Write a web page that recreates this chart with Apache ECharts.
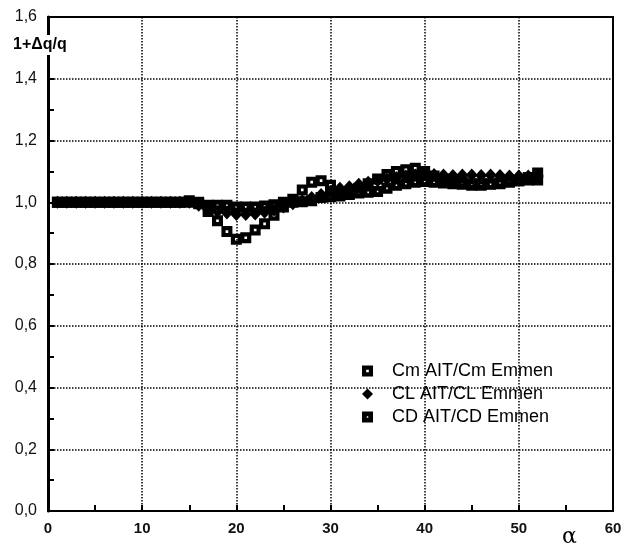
<!DOCTYPE html>
<html><head><meta charset="utf-8">
<script src="https://cdn.jsdelivr.net/npm/echarts@6/dist/echarts.min.js"></script>
<style>html,body{margin:0;padding:0;background:#fff}#c{width:632px;height:550px}</style>
</head><body><div id="c"></div>
<script>
var alpha = [1,2,3,4,5,6,7,8,9,10,11,12,13,14,15,16,17,18,19,20,21,22,23,24,25,26,27,28,29,30,31,32,33,34,35,36,37,38,39,40,41,42,43,44,45,46,47,48,49,50,51,52];
var cmValues = [1.0,1.0,1.0,1.0,1.0,1.0,1.0,1.0,1.0,1.0,1.0,1.0,1.0,1.0,1.005,1.0,0.97,0.94,0.905,0.88,0.885,0.91,0.93,0.958,0.985,1.01,1.04,1.065,1.07,1.055,1.03,1.035,1.045,1.06,1.075,1.09,1.10,1.105,1.11,1.10,1.085,1.075,1.07,1.065,1.06,1.06,1.06,1.06,1.065,1.07,1.08,1.095];
var clValues = [1.0,1.0,1.0,1.0,1.0,1.0,1.0,1.0,1.0,1.0,1.0,1.0,1.0,1.0,1.0,0.99,0.98,0.97,0.965,0.96,0.96,0.962,0.968,0.975,0.985,0.995,1.005,1.015,1.025,1.035,1.045,1.05,1.058,1.065,1.07,1.075,1.08,1.085,1.088,1.09,1.09,1.088,1.087,1.088,1.088,1.087,1.088,1.087,1.085,1.085,1.085,1.085];
var cdValues = [1.0,1.0,1.0,1.0,1.0,1.0,1.0,1.0,1.0,1.0,1.0,1.0,1.0,1.0,1.0,0.995,0.99,0.99,0.99,0.985,0.985,0.985,0.988,0.992,1.0,1.0,1.002,1.005,1.015,1.018,1.02,1.025,1.03,1.032,1.035,1.045,1.055,1.06,1.065,1.067,1.065,1.062,1.06,1.058,1.055,1.055,1.058,1.063,1.068,1.07,1.072,1.072];
var seriesNames = ['Cm AIT/Cm Emmen','CL AIT/CL Emmen','CD AIT/CD Emmen'];
var yTicks = [0,0.2,0.4,0.6,0.8,1.0,1.2,1.4,1.6];

function pairs(v){ return alpha.map(function(a,i){return [a,v[i]];}); }
var symCm = 'path://M0,0H10V10H0Z M3.8,3.8V6.2H6.2V3.8Z';
var symCd = 'path://M0,0H10V10H0Z M4.3,4.3V5.7H5.7V4.3Z';
var font = 'Liberation Sans, Arial, sans-serif';

var chart = echarts.init(document.getElementById('c'));
chart.setOption({
  animation:false,
  backgroundColor:'#fff',
  grid:{left:48,right:19,top:17,bottom:39,show:true,borderColor:'#000',borderWidth:2},
  legend:{
    orient:'vertical', left:357, top:357, itemGap:5, itemWidth:11, itemHeight:11,
    data:seriesNames,
    textStyle:{fontFamily:font,fontSize:18,color:'#000',padding:[0,0,0,14]}
  },
  xAxis:{
    type:'value', min:0, max:60, interval:10,
    axisLine:{show:true,lineStyle:{color:'#000',width:2}},
    axisTick:{show:true,inside:true,length:6,lineStyle:{color:'#000',width:2}},
    minorTick:{show:true,splitNumber:2,length:6,lineStyle:{color:'#000',width:2}},
    splitLine:{show:true,lineStyle:{color:'#000',type:'dotted',width:1.5}},
    axisLabel:{margin:10,fontFamily:font,fontSize:15,fontWeight:'bold',color:'#111'}
  },
  yAxis:{
    type:'value', min:0, max:1.6, interval:0.2,
    axisLine:{show:true,lineStyle:{color:'#000',width:3}},
    axisTick:{show:true,inside:true,length:6,lineStyle:{color:'#000',width:2}},
    minorTick:{show:true,splitNumber:2,length:6,lineStyle:{color:'#000',width:2}},
    splitLine:{show:true,lineStyle:{color:'#000',type:'dotted',width:1.5}},
    axisLabel:{margin:11,fontFamily:font,fontSize:16,color:'#111',
      formatter:function(v){return v.toFixed(1).replace('.',',');}}
  },
  graphic:[
    {type:'text',left:13,top:35,z:100,style:{text:'1+\u0394q/q',font:'bold 16px Liberation Sans, Arial, sans-serif',fill:'#000',backgroundColor:'#fff',padding:[2,2,2,0]}},
    {type:'text',left:562,top:526,z:100,style:{text:'\u03b1',font:'22px DejaVu Serif, serif',fill:'#000'}}
  ],
  series:[
    {name:seriesNames[0],type:'scatter',symbol:symCm,symbolSize:11,z:4,
     itemStyle:{color:'#000',opacity:1},data:pairs(cmValues)},
    {name:seriesNames[1],type:'scatter',symbol:'diamond',symbolSize:[12,13],z:2,
     itemStyle:{color:'#000',opacity:1},data:pairs(clValues)},
    {name:seriesNames[2],type:'scatter',symbol:symCd,symbolSize:11,z:3,
     itemStyle:{color:'#000',opacity:1},data:pairs(cdValues)}
  ]
});
</script></body></html>
